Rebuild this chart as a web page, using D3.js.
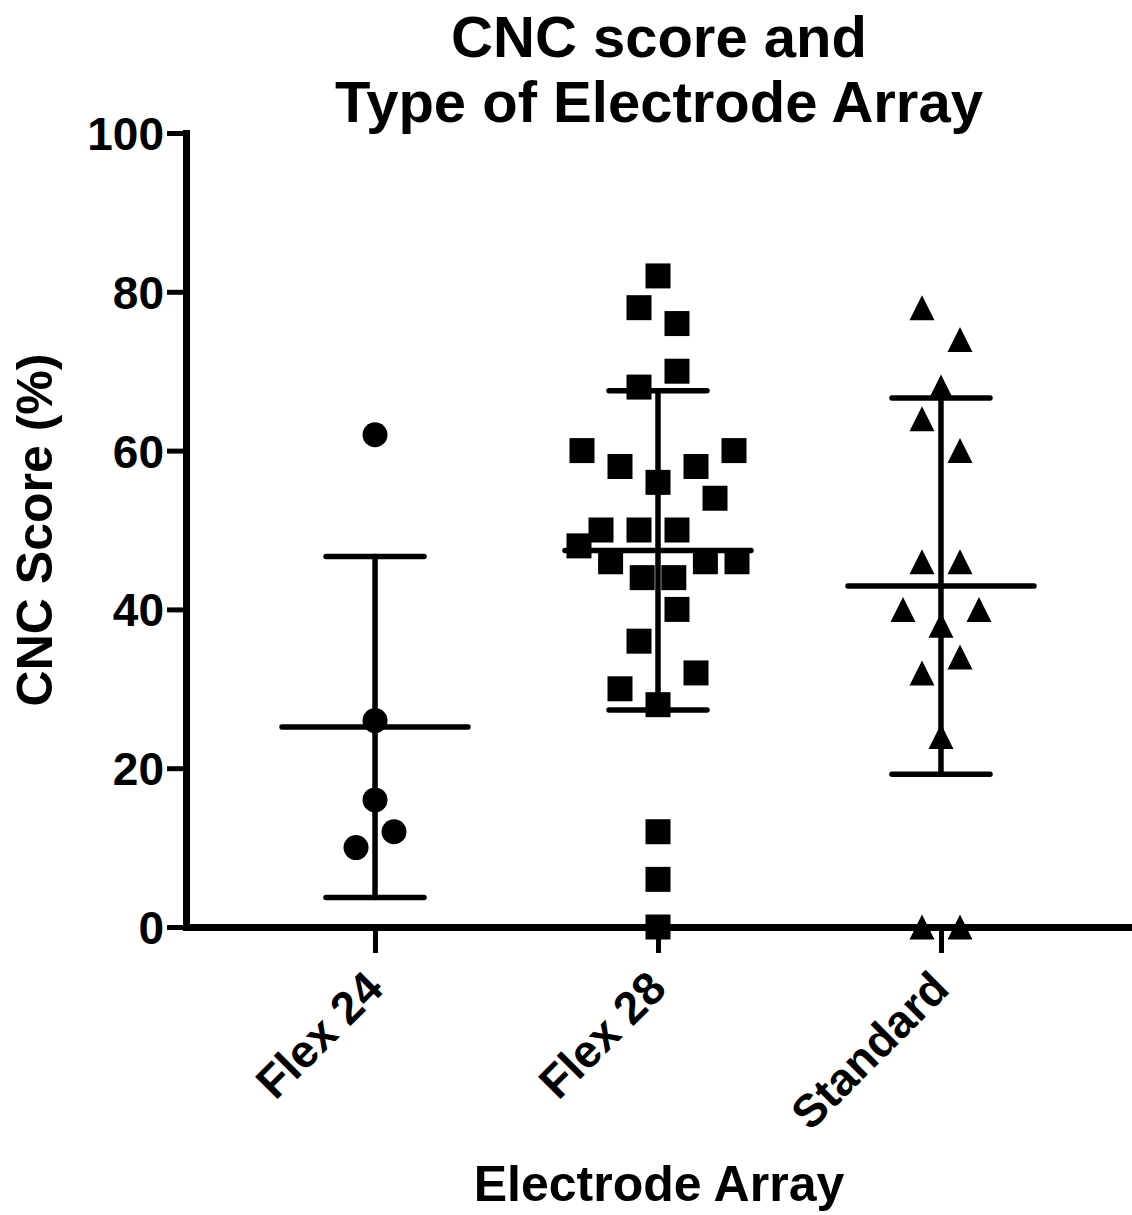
<!DOCTYPE html>
<html>
<head>
<meta charset="utf-8">
<script src="https://cdn.jsdelivr.net/npm/d3@7"></script>
<style>
  body { margin: 0; background: #fff; }
  text { font-family: "Liberation Sans", Arial, Helvetica, sans-serif; font-weight: bold; fill: #000; }
</style>
</head>
<body>
<div id="chart"></div>
<script>
// values per group; within a row of close values the array order is the left-to-right order
const categories = ["Flex 24", "Flex 28", "Standard"];
const flex24 = [10, 12, 16, 26, 62];
const flex28 = [0, 6, 12, 30, 28, 32, 36, 40, 48, 46, 44, 44, 46, 46, 50, 50, 50, 54, 60, 58, 56, 58, 60, 68, 70, 78, 76, 82];
const standard = [0, 0, 24, 32, 34, 40, 38, 40, 46, 46, 64, 60, 68, 78, 74];
const yTicks = [0, 20, 40, 60, 80, 100];
const titleLines = ["CNC score and", "Type of Electrode Array"];

const series = [flex24, flex28, standard];

const width = 1132, height = 1215;

const svg = d3.select("#chart")
    .append("svg")
    .attr("width", width)
    .attr("height", height);

const x = d3.scalePoint()
    .domain(categories)
    .range([186, 1130])
    .padding(0.668);

const y = d3.scaleLinear()
    .domain([0, 100])
    .range([927, 133]);

// custom triangle, as tall as it is wide
const tallTriangle = {
    draw(ctx, size) {
        const s = Math.sqrt(size), h = s / 2;
        ctx.moveTo(0, -h);
        ctx.lineTo(h, h);
        ctx.lineTo(-h, h);
        ctx.closePath();
    }
};
const symbols = [
    d3.symbol().type(d3.symbolCircle).size(Math.PI * 12.5 * 12.5),
    d3.symbol().type(d3.symbolSquare).size(25 * 25),
    d3.symbol().type(tallTriangle).size(25 * 25)
];

// column scatter: rows of close values are spread side by side
let swarm = (values, center) => {
    const order = values.map((v, i) => i).sort((a, b) => values[a] - values[b] || a - b);
    const rows = [];
    let row = null;
    order.forEach(i => {
        if (!row || values[i] - values[row[0]] > 4.5) {
            row = [i];
            rows.push(row);
        } else {
            row.push(i);
        }
    });
    const pts = [];
    rows.forEach(r => {
        r.sort((a, b) => a - b);
        const step = r.length > 1 ? Math.min(38, 158 / (r.length - 1)) : 0;
        r.forEach((i, k) => pts.push({ value: values[i], x: center + (k - (r.length - 1) / 2) * step }));
    });
    return pts;
};

// Title
svg.append("g")
    .selectAll("text")
    .data(titleLines)
    .join("text")
    .attr("x", 659)
    .attr("y", (d, i) => 57 + i * 65)
    .attr("text-anchor", "middle")
    .style("font-size", "58px")
    .text(d => d);

// mean and SD bars
series.forEach((vals, gi) => {
    const cx = x(categories[gi]);
    const m = d3.mean(vals), sd = d3.deviation(vals);
    const g = svg.append("g")
        .attr("stroke", "#000")
        .attr("stroke-width", 5.5)
        .attr("stroke-linecap", "round");
    g.append("line").attr("x1", cx).attr("x2", cx).attr("y1", y(m - sd)).attr("y2", y(m + sd));
    g.append("line").attr("x1", cx - 93).attr("x2", cx + 93).attr("y1", y(m)).attr("y2", y(m));
    g.append("line").attr("x1", cx - 49).attr("x2", cx + 49).attr("y1", y(m + sd)).attr("y2", y(m + sd));
    g.append("line").attr("x1", cx - 49).attr("x2", cx + 49).attr("y1", y(m - sd)).attr("y2", y(m - sd));
});

// points
series.forEach((vals, gi) => {
    svg.append("g")
        .selectAll("path")
        .data(swarm(vals, x(categories[gi])))
        .join("path")
        .attr("d", symbols[gi])
        .attr("transform", d => `translate(${d.x},${y(d.value)})`)
        .attr("fill", "#000");
});

// Y axis
const yAxis = svg.append("g")
    .attr("transform", "translate(186,0)")
    .call(d3.axisLeft(y).tickValues(yTicks).tickSize(19).tickSizeOuter(0).tickPadding(3));
yAxis.select(".domain").attr("stroke-width", 7).attr("stroke-linecap", "square");
yAxis.selectAll(".tick line").attr("stroke-width", 5);
yAxis.selectAll(".tick text").style("font-size", "46px").attr("dy", "0.36em");

// X axis
const xAxis = svg.append("g")
    .attr("transform", "translate(0,927)")
    .call(d3.axisBottom(x).tickSize(26).tickSizeOuter(0));
xAxis.select(".domain").attr("stroke-width", 7).attr("stroke-linecap", "square");
xAxis.selectAll(".tick line").attr("stroke-width", 5);
xAxis.selectAll(".tick text")
    .style("font-size", "46px")
    .attr("text-anchor", "end")
    .attr("x", 0).attr("y", 0).attr("dy", 0)
    .attr("transform", "translate(10,64) rotate(-45)");

// axis titles
svg.append("text")
    .attr("transform", "translate(52,530) rotate(-90)")
    .attr("text-anchor", "middle")
    .style("font-size", "50px")
    .text("CNC Score (%)");

svg.append("text")
    .attr("x", 659)
    .attr("y", 1201)
    .attr("text-anchor", "middle")
    .style("font-size", "50px")
    .text("Electrode Array");
</script>
</body>
</html>
